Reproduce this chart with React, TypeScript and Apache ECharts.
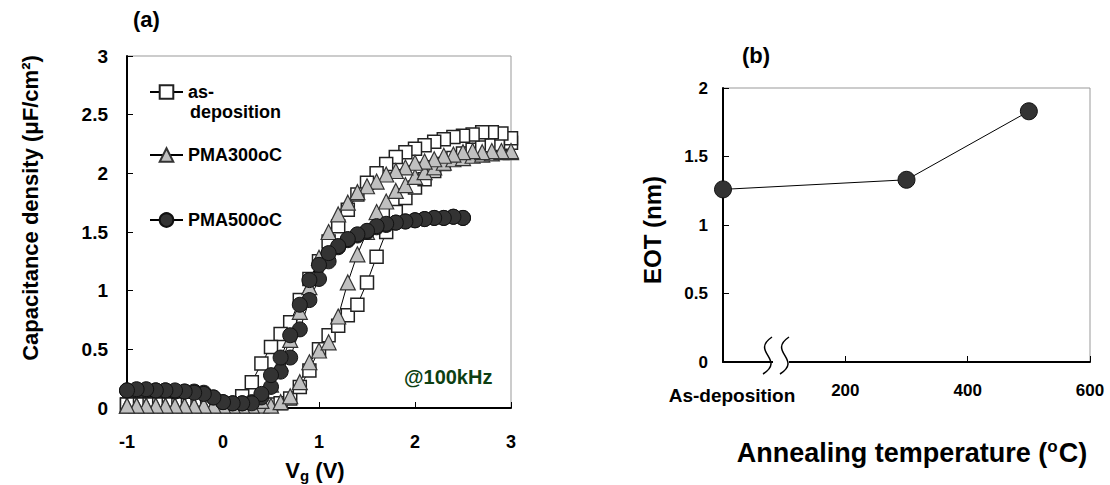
import React, { useEffect, useRef } from "react";
import * as echarts from "echarts";

const FONT = "'Liberation Sans', Arial, Helvetica, sans-serif";

// ---- Panel (a): C-V curves ----
const voltage = [-1.0, -0.9, -0.8, -0.7, -0.6, -0.5, -0.4, -0.3, -0.2, -0.1, 0.0, 0.1, 0.2, 0.3, 0.4, 0.5, 0.6, 0.7, 0.8, 0.9, 1.0, 1.1, 1.2, 1.3, 1.4, 1.5, 1.6, 1.7, 1.8, 1.9, 2.0, 2.1, 2.2, 2.3, 2.4, 2.5, 2.6, 2.7, 2.8, 2.9, 3.0];

const seriesNames = ["as-deposition", "PMA300oC", "PMA500oC"];

// as-deposition: branch rising later (sweep up) and branch rising earlier (sweep back)
const asDepUp = [0.03, 0.03, 0.03, 0.03, 0.03, 0.03, 0.03, 0.03, 0.03, 0.03, 0.03, 0.03, 0.03, 0.03, 0.03, 0.03, 0.04, 0.08, 0.18, 0.32, 0.5, 0.62, 0.7, 0.79, 0.88, 1.07, 1.29, 1.5, 1.67, 1.79, 1.88, 1.95, 2.02, 2.08, 2.13, 2.17, 2.2, 2.22, 2.24, 2.25, 2.26];
const asDepDown = [0.03, 0.03, 0.03, 0.03, 0.03, 0.03, 0.03, 0.03, 0.03, 0.03, 0.03, 0.03, 0.1, 0.22, 0.38, 0.52, 0.63, 0.73, 0.92, 1.1, 1.25, 1.42, 1.55, 1.69, 1.82, 1.92, 2.0, 2.08, 2.14, 2.18, 2.21, 2.24, 2.27, 2.29, 2.31, 2.32, 2.33, 2.35, 2.35, 2.34, 2.3];

const pma300Up = [0.02, 0.02, 0.02, 0.02, 0.02, 0.02, 0.02, 0.02, 0.02, 0.02, 0.02, 0.02, 0.02, 0.02, 0.02, 0.02, 0.05, 0.1, 0.22, 0.39, 0.49, 0.56, 0.78, 1.07, 1.31, 1.5, 1.67, 1.76, 1.85, 1.9, 1.97, 2.01, 2.05, 2.09, 2.12, 2.13, 2.15, 2.16, 2.17, 2.18, 2.18];
const pma300Down = [0.02, 0.02, 0.02, 0.02, 0.02, 0.02, 0.02, 0.02, 0.02, 0.02, 0.02, 0.02, 0.02, 0.02, 0.06, 0.2, 0.38, 0.58, 0.82, 1.03, 1.28, 1.5, 1.65, 1.75, 1.84, 1.89, 1.93, 1.99, 2.02, 2.05, 2.09, 2.1, 2.12, 2.15, 2.16, 2.18, 2.19, 2.18, 2.19, 2.19, 2.19];

// PMA500oC measured from -1 V to 2.5 V
const pma500Up = [0.15, 0.15, 0.15, 0.15, 0.15, 0.14, 0.14, 0.14, 0.13, 0.09, 0.05, 0.04, 0.04, 0.05, 0.09, 0.18, 0.31, 0.43, 0.67, 0.92, 1.1, 1.25, 1.37, 1.43, 1.47, 1.5, 1.54, 1.56, 1.58, 1.59, 1.6, 1.61, 1.62, 1.62, 1.63, 1.62];
const pma500Down = [0.15, 0.16, 0.16, 0.15, 0.15, 0.15, 0.14, 0.13, 0.12, 0.09, 0.05, 0.04, 0.04, 0.04, 0.12, 0.28, 0.43, 0.62, 0.88, 1.09, 1.22, 1.32, 1.38, 1.44, 1.48, 1.51, 1.55, 1.57, 1.58, 1.59, 1.6, 1.61, 1.62, 1.62, 1.63, 1.62];

// ---- Panel (b): EOT vs annealing temperature ----
const annealTemp = [0, 300, 500];
const eotValues = [1.26, 1.33, 1.83];

function loop(up: number[], down: number[]) {
  const pts: number[][] = up.map((c, i) => [voltage[i], c]);
  for (let i = down.length - 1; i >= 0; i--) pts.push([voltage[i], down[i]]);
  return pts;
}

const labelStyle = { fontFamily: FONT, fontWeight: "bold" as const, color: "#000" };

export default function App() {
  const ref = useRef<HTMLDivElement>(null);
  useEffect(() => {
    if (!ref.current) return;
    const chart = echarts.init(ref.current, null, { renderer: "svg" });
    const legendBase = {
      orient: "horizontal",
      left: 149,
      padding: 0,
      itemWidth: 33,
      itemHeight: 17,
      selectedMode: false,
      textStyle: { fontSize: 18, lineHeight: 17, ...labelStyle },
    };
    const option: any = {
      animation: false,
      backgroundColor: "#fff",
      grid: [
        { left: 127, top: 56, width: 384, height: 352, show: true, borderColor: "#999", borderWidth: 1, backgroundColor: "transparent" },
        { left: 723, top: 88, width: 367, height: 274, show: true, borderColor: "#999", borderWidth: 1, backgroundColor: "transparent" },
      ],
      xAxis: [
        {
          type: "value", gridIndex: 0, min: -1, max: 3, interval: 1,
          axisLine: { show: true, onZero: false, lineStyle: { color: "#000", width: 2 } },
          axisTick: { show: true, inside: true, length: 6, lineStyle: { color: "#000", width: 1 } },
          splitLine: { show: false },
          axisLabel: { margin: 25, fontSize: 18, ...labelStyle },
        },
        {
          type: "value", gridIndex: 1, min: 0, max: 600, interval: 200,
          axisLine: { show: true, onZero: false, lineStyle: { color: "#000", width: 2 } },
          axisTick: { show: true, inside: true, length: 6, lineStyle: { color: "#000", width: 1 } },
          splitLine: { show: false },
          axisLabel: {
            margin: 20, fontSize: 17, ...labelStyle,
            formatter: (v: number) => (v === 0 ? "{a|As-deposition}" : String(v)),
            rich: { a: { fontSize: 19, fontFamily: FONT, fontWeight: "bold", color: "#000", padding: [4, 0, 0, 18] } },
          },
        },
      ],
      yAxis: [
        {
          type: "value", gridIndex: 0, min: 0, max: 3, interval: 0.5,
          axisLine: { show: true, onZero: false, lineStyle: { color: "#000", width: 2 } },
          axisTick: { show: true, inside: true, length: 6, lineStyle: { color: "#000", width: 1 } },
          splitLine: { show: false },
          axisLabel: { margin: 19, fontSize: 19, ...labelStyle },
        },
        {
          type: "value", gridIndex: 1, min: 0, max: 2, interval: 0.5,
          axisLine: { show: true, onZero: false, lineStyle: { color: "#000", width: 2 } },
          axisTick: { show: true, inside: true, length: 6, lineStyle: { color: "#000", width: 1 } },
          splitLine: { show: false },
          axisLabel: { margin: 15, fontSize: 17, ...labelStyle },
        },
      ],
      legend: [
        { ...legendBase, top: 83, data: [seriesNames[0]], formatter: () => "as-" },
        { ...legendBase, top: 146, data: [seriesNames[1]] },
        { ...legendBase, top: 211, data: [seriesNames[2]] },
      ],
      series: [
        {
          name: seriesNames[0], type: "line", xAxisIndex: 0, yAxisIndex: 0,
          data: loop(asDepUp, asDepDown),
          symbol: "rect", symbolSize: 13,
          itemStyle: { color: "#fff", borderColor: "#222", borderWidth: 1.5 },
          lineStyle: { color: "#000", width: 1 },
        },
        {
          name: seriesNames[1], type: "line", xAxisIndex: 0, yAxisIndex: 0,
          data: loop(pma300Up, pma300Down),
          symbol: "triangle", symbolSize: 15,
          itemStyle: { color: "#c0c0c0", borderColor: "#333", borderWidth: 1.2 },
          lineStyle: { color: "#000", width: 1 },
        },
        {
          name: seriesNames[2], type: "line", xAxisIndex: 0, yAxisIndex: 0,
          data: loop(pma500Up, pma500Down),
          symbol: "circle", symbolSize: 15,
          itemStyle: { color: "#333", borderColor: "#111", borderWidth: 1 },
          lineStyle: { color: "#000", width: 1 },
        },
        {
          name: "EOT", type: "line", xAxisIndex: 1, yAxisIndex: 1,
          data: annealTemp.map((t, i) => [t, eotValues[i]]),
          symbol: "circle", symbolSize: 17,
          itemStyle: { color: "#333", borderColor: "#111", borderWidth: 1 },
          lineStyle: { color: "#000", width: 1 },
        },
      ],
      graphic: [
        { type: "text", z: 100, x: 190, y: 112, style: { text: "deposition", fontSize: 18, fontFamily: FONT, fontWeight: "bold", fill: "#000", align: "left", verticalAlign: "middle" } },
        { type: "text", z: 100, x: 133, y: 19, style: { text: "(a)", fontSize: 22, fontFamily: FONT, fontWeight: "bold", fill: "#000", align: "left", verticalAlign: "middle" } },
        { type: "text", z: 100, x: 742, y: 55, style: { text: "(b)", fontSize: 22, fontFamily: FONT, fontWeight: "bold", fill: "#000", align: "left", verticalAlign: "middle" } },
        { type: "text", z: 100, x: 404, y: 377, style: { text: "@100kHz", fontSize: 20, fontFamily: FONT, fontWeight: "bold", fill: "#0d3f12", align: "left", verticalAlign: "middle" } },
        { type: "text", z: 100, x: 30, y: 208, rotation: Math.PI / 2, style: { text: "Capacitance density (μF/cm²)", fontSize: 22, fontFamily: FONT, fontWeight: "bold", fill: "#000", align: "center", verticalAlign: "middle" } },
        {
          type: "text", z: 100, x: 315, y: 470,
          style: {
            text: "{a|V}{b|g}{a| (V)}", align: "center", verticalAlign: "middle", fill: "#000",
            rich: {
              a: { fontSize: 22, fontFamily: FONT, fontWeight: "bold", fill: "#000" },
              b: { fontSize: 15, fontFamily: FONT, fontWeight: "bold", fill: "#000", padding: [10, 0, 0, 0] },
            },
          },
        },
        { type: "text", z: 100, x: 652, y: 230, rotation: Math.PI / 2, style: { text: "EOT (nm)", fontSize: 24, fontFamily: FONT, fontWeight: "bold", fill: "#000", align: "center", verticalAlign: "middle" } },
        {
          type: "text", z: 100, x: 912, y: 453,
          style: {
            text: "{a|Annealing temperature (}{s|o}{a|C)}", align: "center", verticalAlign: "middle", fill: "#000",
            rich: {
              a: { fontSize: 27, fontFamily: FONT, fontWeight: "bold", fill: "#000" },
              s: { fontSize: 17, fontFamily: FONT, fontWeight: "bold", fill: "#000", padding: [0, 1, 14, 0] },
            },
          },
        },
        { type: "rect", z: 100, shape: { x: 773, y: 359, width: 16, height: 6 }, style: { fill: "#fff" } },
        { type: "bezierCurve", z: 101, shape: { x1: 772, y1: 337, cpx1: 750, cpy1: 352, cpx2: 786, cpy2: 359, x2: 763, y2: 374 }, style: { stroke: "#000", lineWidth: 1.5, fill: "none" } },
        { type: "bezierCurve", z: 101, shape: { x1: 789, y1: 337, cpx1: 767, cpy1: 352, cpx2: 803, cpy2: 359, x2: 780, y2: 374 }, style: { stroke: "#000", lineWidth: 1.5, fill: "none" } },
      ],
    };
    chart.setOption(option);
    return () => chart.dispose();
  }, []);
  return <div ref={ref} style={{ position: "absolute", left: 0, top: 0, width: 1110, height: 485 }} />;
}
